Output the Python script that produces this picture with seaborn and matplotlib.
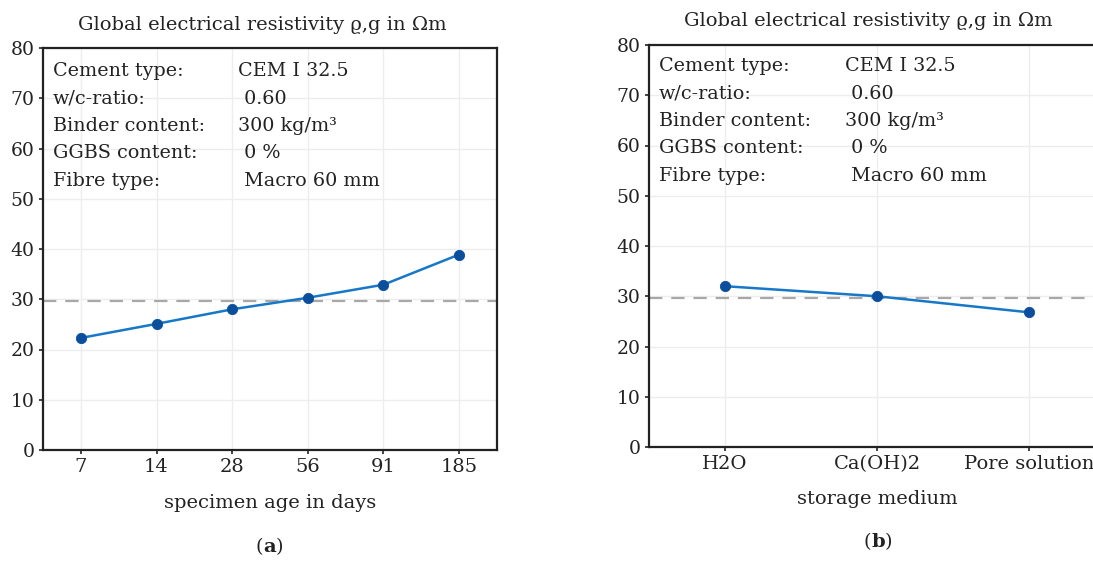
import numpy as np
import pandas as pd
import matplotlib
matplotlib.use("Agg")
import matplotlib.pyplot as plt
import seaborn as sns

# Panel (a): resistivity over specimen age
age_labels = ["7", "14", "28", "56", "91", "185"]
age_resistivity = [22.3, 25.1, 28.0, 30.3, 32.9, 38.9]

# Panel (b): resistivity by storage medium
medium_labels = ["H2O", "Ca(OH)2", "Pore solution"]
medium_resistivity = [32.0, 30.0, 26.8]

spec_keys = ["Cement type:", "w/c-ratio:", "Binder content:", "GGBS content:", "Fibre type:"]
spec_vals = ["CEM I 32.5", " 0.60", "300 kg/m³", " 0 %", " Macro 60 mm"]

y_ticks = [0, 10, 20, 30, 40, 50, 60, 70, 80]

sns.set_theme(style="white")
plt.rcParams["font.family"] = ["DejaVu Serif"]

LINE = "#1778c8"
DOT = "#0b4f9c"
GRID = "#ededed"
TXT = "#222222"

W, H = 1093, 561
fig = plt.figure(figsize=(W / 100, H / 100), dpi=100)


def px_axes(left, top, right, bottom):
    return fig.add_axes([left / W, 1 - bottom / H, (right - left) / W, (bottom - top) / H])


def draw_panel(ax, labels, values, key_x, val_x, top_y):
    df = pd.DataFrame({"x": labels, "y": values})
    ax.axhline(np.mean(values), color="#a8a8a8", lw=1.6, ls=(0, (6, 4)), zorder=2)
    sns.lineplot(data=df, x="x", y="y", sort=False, color=LINE, lw=1.8, ax=ax, zorder=3)
    sns.scatterplot(data=df, x="x", y="y", color=DOT, s=55, edgecolor=DOT, ax=ax, zorder=4)
    ax.set_xlim(-0.5, len(labels) - 0.5)
    ax.set_ylim(0, 80)
    ax.set_yticks(y_ticks)
    ax.grid(True, color=GRID, lw=1)
    ax.set_axisbelow(True)
    for s in ax.spines.values():
        s.set_color("#222222")
        s.set_linewidth(1.6)
    ax.tick_params(axis="both", which="both", length=3, width=1.2, color="#222222",
                   labelcolor=TXT, pad=3, bottom=True, left=True)
    ax.tick_params(axis="x", labelsize=14)
    ax.tick_params(axis="y", labelsize=13.5)
    ax.set_xlabel("")
    ax.set_ylabel("")
    for i, (k, v) in enumerate(zip(spec_keys, spec_vals)):
        yy = top_y - i * 0.068
        ax.text(key_x, yy, k, transform=ax.transAxes, fontsize=13.8, color=TXT, va="center")
        ax.text(val_x, yy, v, transform=ax.transAxes, fontsize=13.8, color=TXT, va="center")


ax_a = px_axes(43, 48, 497, 450)
draw_panel(ax_a, age_labels, age_resistivity, 0.022, 0.43, 0.942)
ax_b = px_axes(649, 45, 1105, 447)
draw_panel(ax_b, medium_labels, medium_resistivity, 0.022, 0.43, 0.947)

title = "Global electrical resistivity ϱ,g in Ωm"
fig.text(262 / W, 1 - 25 / H, title, ha="center", va="center", fontsize=14, color=TXT)
fig.text(868 / W, 1 - 21 / H, title, ha="center", va="center", fontsize=14, color=TXT)

fig.text(270 / W, 1 - 503 / H, "specimen age in days", ha="center", va="center", fontsize=14, color=TXT)
fig.text(877 / W, 1 - 499 / H, "storage medium", ha="center", va="center", fontsize=14, color=TXT)

fig.text(263 / W, 1 - 547 / H, "(", ha="right", va="center", fontsize=14, color=TXT)
fig.text(263 / W, 1 - 547 / H, "a", ha="left", va="center", fontsize=14, color=TXT, fontweight="bold")
fig.text(276 / W, 1 - 547 / H, ")", ha="left", va="center", fontsize=14, color=TXT)

fig.text(871 / W, 1 - 542 / H, "(", ha="right", va="center", fontsize=14, color=TXT)
fig.text(871 / W, 1 - 542 / H, "b", ha="left", va="center", fontsize=14, color=TXT, fontweight="bold")
fig.text(885 / W, 1 - 542 / H, ")", ha="left", va="center", fontsize=14, color=TXT)

fig.savefig("out.png", dpi=100)
